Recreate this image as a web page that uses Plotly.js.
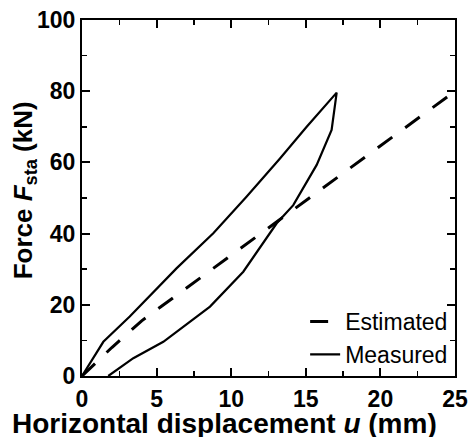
<!DOCTYPE html>
<html>
<head>
<meta charset="utf-8">
<script src="https://cdn.plot.ly/plotly-3.0.1.min.js"></script>
<style>html,body{margin:0;padding:0;background:#fff;}#chart{width:469px;height:437px;}</style>
</head>
<body>
<div id="chart"></div>
<script>
// Estimated force-displacement (dashed)
const estimatedX = [0, 2, 4, 10, 17, 25];
const estimatedY = [0, 8, 15.5, 34, 55.5, 80];

// Measured hysteresis loop (loading branch then unloading branch)
const measuredX = [0, 1.43, 3.2, 6.35, 8.8, 11.04, 13.27, 15.06, 17.07,
                   16.73, 15.73, 14.16, 13.05, 10.81, 8.58, 5.45, 3.44, 1.76];
const measuredY = [0, 9.6, 16.7, 30.3, 40.1, 50.4, 61.1, 70.0, 79.6,
                   69.1, 59.3, 48.0, 42.9, 29.3, 19.5, 9.6, 5.0, 0];

const seriesNames = ['Estimated', 'Measured'];
const xTicks = [0, 5, 10, 15, 20, 25];
const yTicks = [0, 20, 40, 60, 80, 100];

const tickFont = {family: 'Liberation Sans, Arial, sans-serif', size: 23, weight: 'bold', color: '#000'};

const traces = [
  {x: estimatedX, y: estimatedY, name: seriesNames[0], mode: 'lines',
   line: {color: '#000', width: 3, dash: '18px,16px'}},
  {x: measuredX, y: measuredY, name: seriesNames[1], mode: 'lines',
   line: {color: '#000', width: 2.2}}
];

const layout = {
  width: 469, height: 437,
  margin: {l: 82, r: 14, t: 20, b: 61},
  paper_bgcolor: '#fff', plot_bgcolor: '#fff',
  showlegend: true,
  legend: {x: 0.995, xanchor: 'right', y: 0.0, yanchor: 'bottom',
           bgcolor: 'rgba(0,0,0,0)', borderwidth: 0,
           font: {family: 'Liberation Sans, Arial, sans-serif', size: 23, color: '#000'}},
  xaxis: {range: [0, 25], tickvals: xTicks, ticktext: xTicks.map(String),
          ticks: 'inside', ticklen: 8, tickwidth: 2, tickcolor: '#000',
          minor: {dtick: 2.5, tick0: 0, ticks: 'inside', ticklen: 5, tickwidth: 1.5, tickcolor: '#000'},
          showline: true, linewidth: 2, linecolor: '#000', mirror: 'ticks',
          showgrid: false, zeroline: false, tickfont: tickFont, ticklabelstandoff: 1},
  yaxis: {range: [0, 100], tickvals: yTicks, ticktext: yTicks.map(String),
          ticks: 'inside', ticklen: 8, tickwidth: 2, tickcolor: '#000',
          minor: {dtick: 10, tick0: 0, ticks: 'inside', ticklen: 5, tickwidth: 1.5, tickcolor: '#000'},
          showline: true, linewidth: 2, linecolor: '#000', mirror: 'ticks',
          showgrid: false, zeroline: false, tickfont: tickFont},
  annotations: [
    {text: 'Horizontal displacement <i>u</i> (mm)', xref: 'paper', yref: 'paper',
     x: 0.383, y: -0.133, xanchor: 'center', yanchor: 'middle', showarrow: false,
     font: {family: 'Liberation Sans, Arial, sans-serif', size: 28, weight: 'bold', color: '#000'}},
    {text: 'Force <i>F</i><sub>sta</sub> (kN)', xref: 'paper', yref: 'paper',
     x: -0.155, y: 0.522, xanchor: 'center', yanchor: 'middle', textangle: -90, showarrow: false,
     font: {family: 'Liberation Sans, Arial, sans-serif', size: 26, weight: 'bold', color: '#000'}}
  ]
};

Plotly.newPlot('chart', traces, layout, {displayModeBar: false, staticPlot: true});
</script>
</body>
</html>
